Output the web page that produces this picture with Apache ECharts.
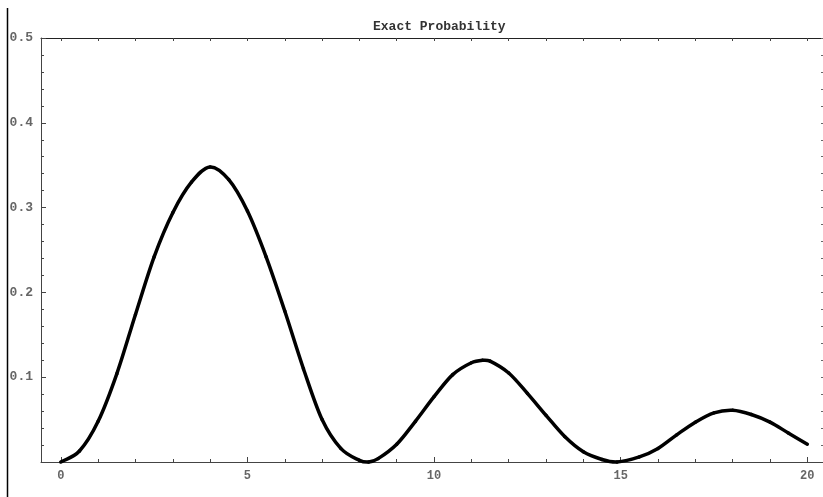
<!DOCTYPE html>
<html>
<head>
<meta charset="utf-8">
<script src="https://cdn.jsdelivr.net/npm/echarts@6/dist/echarts.min.js"></script>
<style>
html,body{margin:0;padding:0;background:#fff;}
#chart{width:823px;height:497px;}
</style>
</head>
<body>
<div id="chart"></div>
<script>
// 曲线数据
var xs = [0,0.5,1,1.5,2,2.5,3,3.5,4,4.5,5,5.5,6,6.5,7,7.5,8,8.25,8.5,9,9.5,10,10.5,11,11.3,11.5,12,12.5,13,13.5,14,14.5,14.9,15.5,16,16.5,17,17.5,18,18.5,19,19.5,20];
var ys = [0.000,0.013,0.048,0.104,0.174,0.242,0.294,0.330,0.348,0.333,0.296,0.242,0.178,0.110,0.050,0.016,0.002,0.000,0.004,0.021,0.048,0.077,0.103,0.117,0.120,0.119,0.105,0.081,0.055,0.030,0.012,0.003,0.000,0.006,0.016,0.032,0.047,0.058,0.061,0.056,0.047,0.034,0.021];
// 刻度
var xMajor = [0,5,10,15,20];
var xMinor = [0,1,2,3,4,5,6,7,8,9,10,11,12,13,14,15,16,17,18,19,20];
var yMajor = [0.1,0.2,0.3,0.4,0.5];
var yMinor = [0.02,0.04,0.06,0.08,0.1,0.12,0.14,0.16,0.18,0.2,0.22,0.24,0.26,0.28,0.3,0.32,0.34,0.36,0.38,0.4,0.42,0.44,0.46,0.48,0.5];

var pts = [];
for (var i = 0; i < xs.length; i++) {
    pts.push([xs[i], ys[i]]);
}

var font = 'Liberation Mono, Courier New, monospace';
var xMin = -0.531, xMax = 20.42;

// 每个点画到下一个点的一段三次曲线（切线取相邻点的差分）
function slopeAt(api, k) {
    var n = pts.length;
    var a = api.coord(pts[Math.max(k - 1, 0)]);
    var b = api.coord(pts[Math.min(k + 1, n - 1)]);
    return (b[1] - a[1]) / (b[0] - a[0]);
}
function renderCurve(params, api) {
    var k = params.dataIndex;
    if (k >= pts.length - 1) {
        return null;
    }
    var p1 = api.coord(pts[k]);
    var p2 = api.coord(pts[k + 1]);
    var d = (p2[0] - p1[0]) / 3;
    var m1 = slopeAt(api, k), m2 = slopeAt(api, k + 1);
    return {
        type: 'bezierCurve',
        shape: {
            x1: p1[0], y1: p1[1],
            x2: p2[0], y2: p2[1],
            cpx1: p1[0] + d, cpy1: p1[1] + m1 * d,
            cpx2: p2[0] - d, cpy2: p2[1] - m2 * d
        },
        style: {stroke: '#000', fill: null, lineWidth: 3.5, lineCap: 'round'}
    };
}

var chart = echarts.init(document.getElementById('chart'));
var option = {
    backgroundColor: '#fff',
    animation: false,
    title: {
        text: 'Exact Probability',
        left: 368,
        top: 15,
        textStyle: {fontFamily: font, fontSize: 13, fontWeight: 'bold', color: '#333'}
    },
    grid: {left: 41, top: 38, width: 782, height: 424},
    xAxis: [
        {
            type: 'value', position: 'bottom', min: xMin, max: xMax,
            axisLine: {show: true, onZero: false, lineStyle: {color: '#444', width: 1}},
            axisTick: {show: true, inside: true, length: 5, customValues: xMajor, lineStyle: {color: '#444'}},
            axisLabel: {show: true, customValues: xMajor, margin: 8, fontFamily: font, fontSize: 12, fontWeight: 'bold', color: '#666'},
            splitLine: {show: false}
        },
        {
            type: 'value', position: 'bottom', min: xMin, max: xMax,
            axisLine: {show: false, onZero: false},
            axisTick: {show: true, inside: true, length: 3, customValues: xMinor, lineStyle: {color: '#444'}},
            axisLabel: {show: false},
            splitLine: {show: false}
        },
        {
            type: 'value', position: 'top', min: xMin, max: xMax,
            axisLine: {show: true, onZero: false, lineStyle: {color: '#222', width: 1}},
            axisTick: {show: true, inside: true, length: 3, customValues: xMinor, lineStyle: {color: '#444'}},
            axisLabel: {show: false},
            splitLine: {show: false}
        }
    ],
    yAxis: [
        {
            type: 'value', position: 'left', min: 0, max: 0.5,
            axisLine: {show: true, onZero: false, lineStyle: {color: '#444', width: 1}},
            axisTick: {show: true, inside: true, length: 5, customValues: yMajor, lineStyle: {color: '#444'}},
            axisLabel: {show: true, customValues: yMajor, margin: 8, fontFamily: font, fontSize: 13, fontWeight: 'bold', color: '#666'},
            splitLine: {show: false}
        },
        {
            type: 'value', position: 'left', min: 0, max: 0.5,
            axisLine: {show: false, onZero: false},
            axisTick: {show: true, inside: true, length: 3, customValues: yMinor, lineStyle: {color: '#444'}},
            axisLabel: {show: false},
            splitLine: {show: false}
        },
        {
            type: 'value', position: 'right', min: 0, max: 0.5,
            axisLine: {show: true, onZero: false, lineStyle: {color: '#444', width: 1}},
            axisTick: {show: true, inside: true, length: 2, customValues: yMinor, lineStyle: {color: '#666'}},
            axisLabel: {show: false},
            splitLine: {show: false}
        }
    ],
    graphic: [
        {
            type: 'line',
            shape: {x1: 7.5, y1: 8, x2: 7.5, y2: 497},
            style: {stroke: '#000', lineWidth: 1.5}
        }
    ],
    series: [
        {
            type: 'custom',
            xAxisIndex: 0,
            yAxisIndex: 0,
            data: pts,
            encode: {x: 0, y: 1},
            clip: false,
            renderItem: renderCurve
        }
    ]
};
chart.setOption(option);
</script>
</body>
</html>
